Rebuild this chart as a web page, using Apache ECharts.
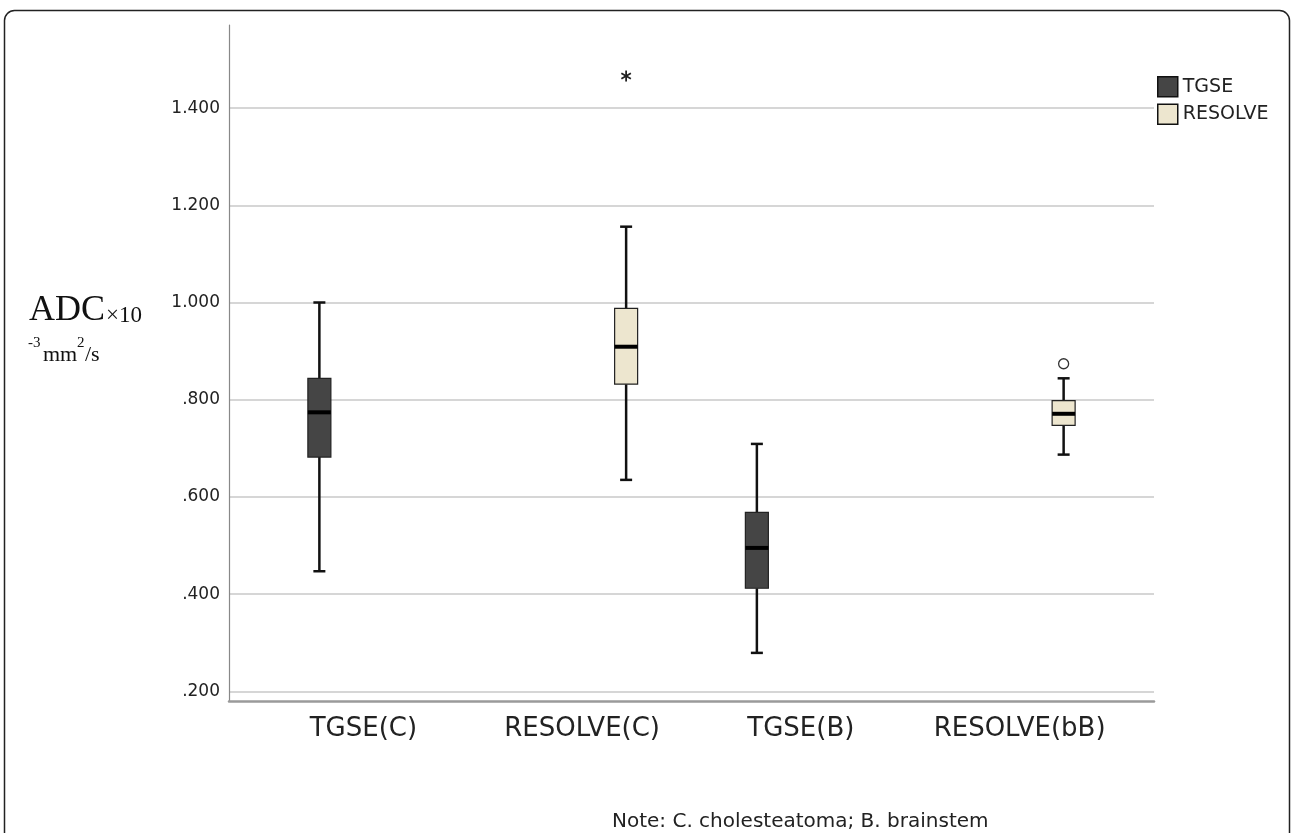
<!DOCTYPE html>
<html><head><meta charset="utf-8">
<script src="https://cdn.jsdelivr.net/npm/echarts@6/dist/echarts.min.js"></script>
<style>html,body{margin:0;padding:0;background:#fff}#c{width:1292px;height:833px}</style>
</head><body><div id="c"></div>
<script>
// ---- data ----
const categories = ['TGSE(C)', 'RESOLVE(C)', 'TGSE(B)', 'RESOLVE(bB)'];
const yTicks = [0.2, 0.4, 0.6, 0.8, 1.0, 1.2, 1.4];
// [min, Q1, median, Q3, max]
const tgseCats = [0, 2];
const tgseStats = [
  [0.447, 0.682, 0.774, 0.844, 1.000],
  [0.279, 0.412, 0.495, 0.568, 0.709]
];
const resolveCats = [1, 3];
const resolveStats = [
  [0.635, 0.832, 0.909, 0.988, 1.156],
  [0.687, 0.747, 0.771, 0.798, 0.844]
];
const outlierCats = [1, 3];
const outlierValues = [1.466, 0.874];
const outlierKinds = ['extreme', 'outlier'];
const outlierGroups = ['RESOLVE', 'RESOLVE'];

// ---- styling / layout ----
const groupOffset = { TGSE: -44, RESOLVE: 44 };
const colors = { TGSE: '#454545', RESOLVE: '#ede6cf' };
const FONT = 'DejaVu Sans';

function boxRenderer(group) {
  const offset = groupOffset[group];
  const fill = colors[group];
  return function (params, api) {
    const cat = api.value(0);
    const p = [1, 2, 3, 4, 5].map(i => api.coord([cat, api.value(i)]));
    const x = p[0][0] + offset;
    const yMin = p[0][1], yQ1 = p[1][1], yMed = p[2][1], yQ3 = p[3][1], yMax = p[4][1];
    const bw = 23, cw = 12;
    const ws = { stroke: '#111', lineWidth: 2.5 };
    return {
      type: 'group', children: [
        { type: 'line', shape: { x1: x, y1: yMax, x2: x, y2: yQ3 }, style: ws },
        { type: 'line', shape: { x1: x, y1: yQ1, x2: x, y2: yMin }, style: ws },
        { type: 'line', shape: { x1: x - cw / 2, y1: yMax, x2: x + cw / 2, y2: yMax }, style: ws },
        { type: 'line', shape: { x1: x - cw / 2, y1: yMin, x2: x + cw / 2, y2: yMin }, style: ws },
        { type: 'rect', shape: { x: x - bw / 2, y: yQ3, width: bw, height: yQ1 - yQ3 }, style: { fill: fill, stroke: '#222', lineWidth: 1.2 } },
        { type: 'line', shape: { x1: x - bw / 2, y1: yMed, x2: x + bw / 2, y2: yMed }, style: { stroke: '#000', lineWidth: 4 } }
      ]
    };
  };
}

function outlierRenderer(params, api) {
  const i = params.dataIndex;
  const cat = api.value(0);
  const pt = api.coord([cat, api.value(1)]);
  const x = pt[0] + groupOffset[outlierGroups[i]];
  const y = pt[1];
  if (outlierKinds[i] === 'outlier') {
    return { type: 'circle', shape: { cx: x, cy: y, r: 5 }, style: { fill: '#fff', stroke: '#333', lineWidth: 1.3 } };
  }
  const r = 5.5, ch = [];
  for (let k = 0; k < 3; k++) {
    const a = Math.PI / 2 + k * Math.PI / 3;
    ch.push({ type: 'line', shape: { x1: x - r * Math.cos(a), y1: y - r * Math.sin(a), x2: x + r * Math.cos(a), y2: y + r * Math.sin(a) }, style: { stroke: '#222', lineWidth: 1.8 } });
  }
  return { type: 'group', children: ch };
}

const tgseData = tgseCats.map((c, i) => [c].concat(tgseStats[i]));
const resolveData = resolveCats.map((c, i) => [c].concat(resolveStats[i]));
const outlierData = outlierCats.map((c, i) => [c, outlierValues[i]]);

const yMin = 0.18, yMax = 1.571;

const chart = echarts.init(document.getElementById('c'));
chart.setOption({
  animation: false,
  backgroundColor: '#fff',
  grid: [
    { left: 229, right: 138, top: 25, bottom: 132 },
    { left: 254, right: 163, top: 25, bottom: 132 }
  ],
  xAxis: [
    { gridIndex: 0, type: 'value', min: 0, max: 1,
      axisLine: { show: true, onZero: false, lineStyle: { color: '#9a9a9a', width: 2.5 } },
      axisTick: { show: false }, axisLabel: { show: false }, splitLine: { show: false } },
    { gridIndex: 1, type: 'category', data: categories, boundaryGap: true,
      axisLine: { show: false }, axisTick: { show: false },
      axisLabel: { interval: 0, hideOverlap: false, fontFamily: FONT, fontSize: 26, color: '#222', margin: 15 } }
  ],
  yAxis: [
    { gridIndex: 0, type: 'value', min: yMin, max: yMax,
      axisLine: { show: true, lineStyle: { color: '#888', width: 1.2 } },
      axisTick: { show: false, customValues: yTicks },
      axisLabel: { customValues: yTicks, fontFamily: FONT, fontSize: 17, color: '#222', margin: 9,
        formatter: v => { const s = v.toFixed(3); return v < 1 ? s.replace(/^0/, '') : s; } },
      splitLine: { show: true, lineStyle: { color: '#c8c8c8', width: 1.5 } } },
    { gridIndex: 1, type: 'value', min: yMin, max: yMax, show: false, splitLine: { show: false } }
  ],
  legend: {
    orient: 'vertical', left: 1157, top: 76, padding: 0,
    itemWidth: 20, itemHeight: 20, itemGap: 6,
    textStyle: { fontFamily: FONT, fontSize: 19, color: '#222' },
    data: [
      { name: 'TGSE', icon: 'rect', itemStyle: { color: colors.TGSE, borderColor: '#111', borderWidth: 1.5 } },
      { name: 'RESOLVE', icon: 'rect', itemStyle: { color: colors.RESOLVE, borderColor: '#111', borderWidth: 1.5 } }
    ]
  },
  series: [
    { name: 'TGSE', type: 'custom', xAxisIndex: 1, yAxisIndex: 1, data: tgseData,
      encode: { x: 0, y: [1, 2, 3, 4, 5] }, renderItem: boxRenderer('TGSE'),
      itemStyle: { color: colors.TGSE, borderColor: '#111' } },
    { name: 'RESOLVE', type: 'custom', xAxisIndex: 1, yAxisIndex: 1, data: resolveData,
      encode: { x: 0, y: [1, 2, 3, 4, 5] }, renderItem: boxRenderer('RESOLVE'),
      itemStyle: { color: colors.RESOLVE, borderColor: '#111' } },
    { name: 'outliers', type: 'custom', xAxisIndex: 1, yAxisIndex: 1, data: outlierData,
      encode: { x: 0, y: 1 }, renderItem: outlierRenderer }
  ],
  graphic: [
    { type: 'rect', z: 100, silent: true, shape: { x: 4.5, y: 10.5, width: 1285, height: 900, r: 10 },
      style: { fill: 'none', stroke: '#222', lineWidth: 1.5 } },
    { type: 'text', left: 29, top: 293, style: { text: 'ADC', font: '36px "Liberation Serif"', fill: '#111' } },
    { type: 'text', left: 106, top: 304, style: { text: '×10', font: '23px "Liberation Serif"', fill: '#111' } },
    { type: 'text', left: 28, top: 336, style: { text: '-3', font: '15px "Liberation Serif"', fill: '#111' } },
    { type: 'text', left: 43, top: 344, style: { text: 'mm', font: '22px "Liberation Serif"', fill: '#111' } },
    { type: 'text', left: 77, top: 336, style: { text: '2', font: '15px "Liberation Serif"', fill: '#111' } },
    { type: 'text', left: 85, top: 344, style: { text: '/s', font: '22px "Liberation Serif"', fill: '#111' } },
    { type: 'text', left: 612, top: 812, style: { text: 'Note: C. cholesteatoma; B. brainstem', font: '20px "DejaVu Sans"', fill: '#222' } }
  ]
});
</script></body></html>
